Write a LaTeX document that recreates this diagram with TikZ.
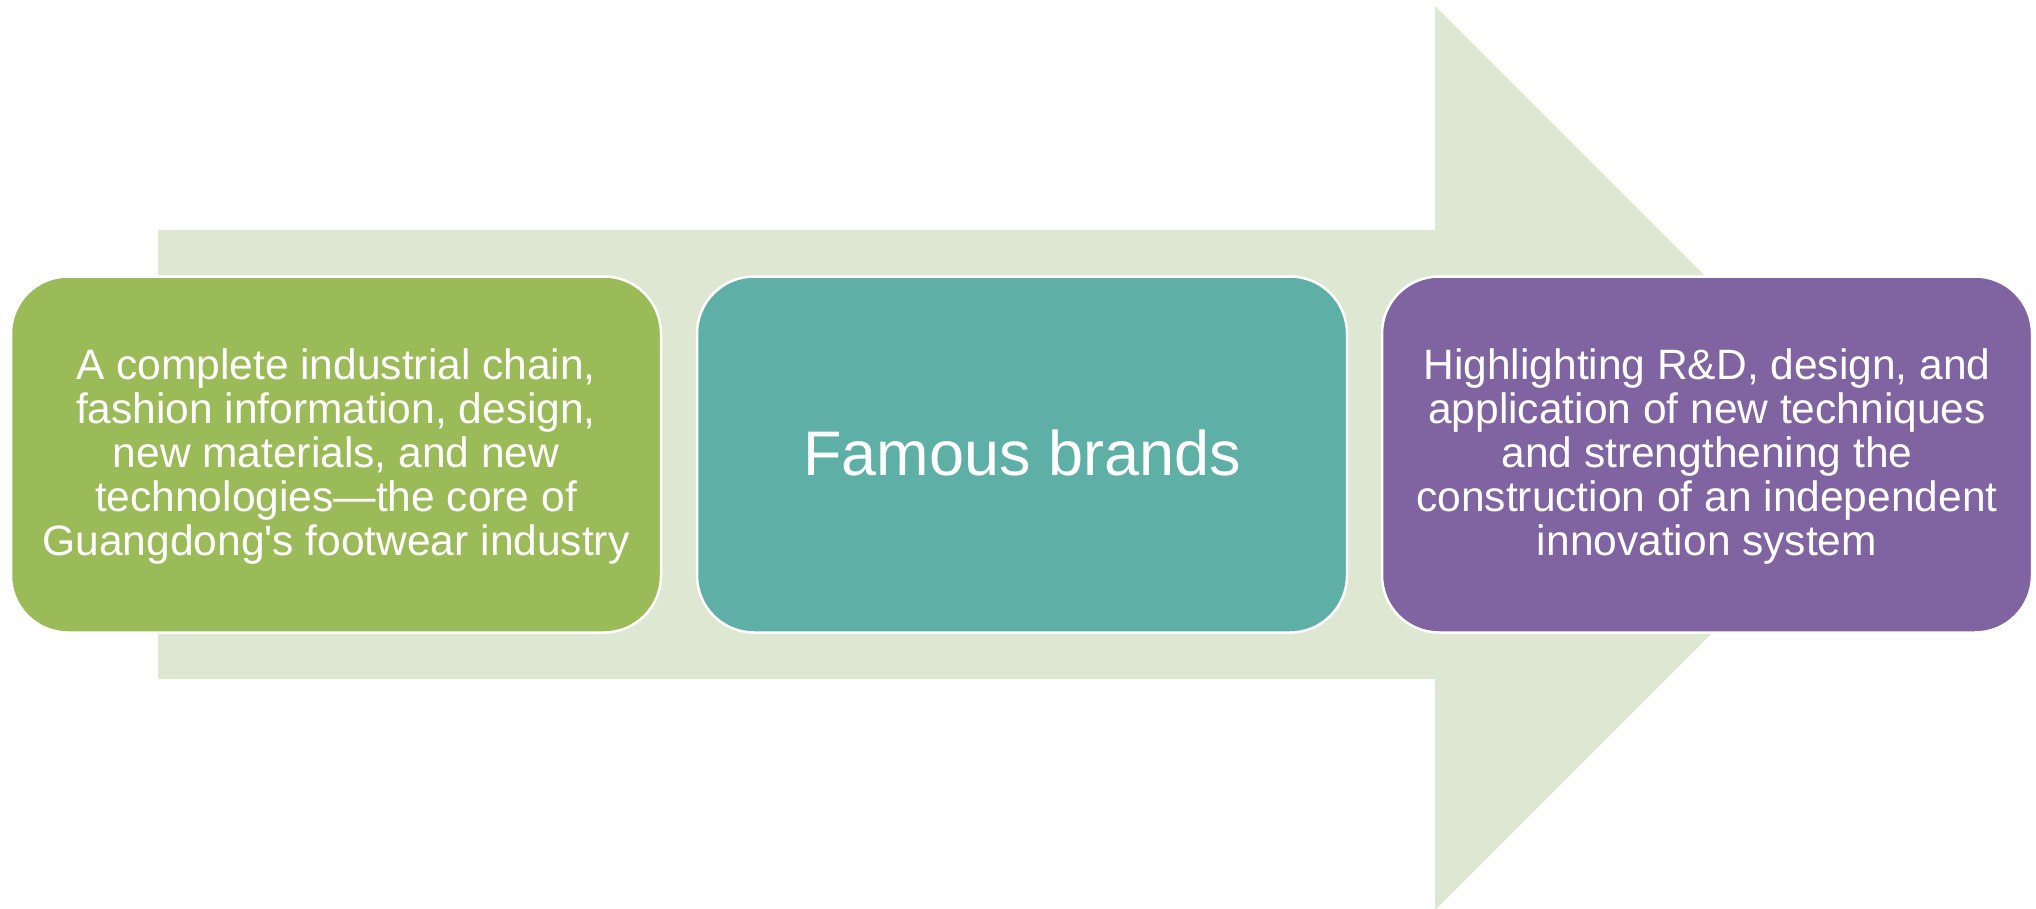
\documentclass[tikz,border=0pt]{standalone}
\usepackage{fontspec}
\setmainfont{Liberation Sans}
\definecolor{arrowfill}{HTML}{DEE7D1}
\definecolor{stepgreen}{HTML}{9BBB59}
\definecolor{stepteal}{HTML}{5EAFA6}
\definecolor{steppurple}{HTML}{8064A2}
\tikzset{
  stagebox/.style={draw=white, line width=2.5pt, rounded corners=57pt,
    minimum width=650pt, minimum height=356pt, inner sep=0pt},
  stagetext/.style={text=white, align=center, inner sep=0pt,
    font=\fontsize{42.5}{44}\selectfont},
  bigtext/.style={text=white, inner sep=0pt, anchor=base,
    font=\fontsize{63}{70}\selectfont}
}
\begin{document}
\begin{tikzpicture}[x=1pt, y=-1pt]
  \useasboundingbox (0,0) rectangle (2036,909);
  % background block arrow
  \fill[arrowfill] (158,230) -- (1435,230) -- (1435,6) -- (1887,458)
    -- (1435,910) -- (1435,679) -- (158,679) -- cycle;
  % three stages
  \node[stagebox, fill=stepgreen]  (b1) at (336,454.5) {};
  \node[stagebox, fill=stepteal]   (b2) at (1022,454.5) {};
  \node[stagebox, fill=steppurple] (b3) at (1707,454.5) {};
  % stage texts
  \node[stagetext] (t1) at (336,457) {A complete industrial chain,\\
    fashion information, design,\\ new materials, and new\\
    technologies---the core of\\ Guangdong\textquotesingle s footwear industry};
  \node[bigtext] (t2) at (1022,475) {Famous brands};
  \node[stagetext] (t3) at (1707,457) {Highlighting R\&D, design, and\\
    application of new techniques\\ and strengthening the\\
    construction of an independent\\ innovation system};
\end{tikzpicture}
\end{document}
